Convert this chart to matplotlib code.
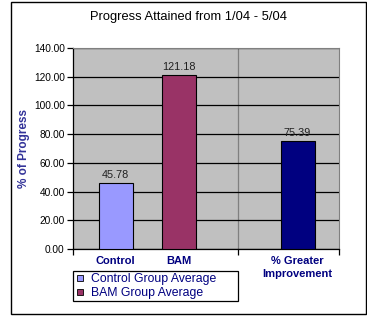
import numpy as np
import matplotlib.pyplot as plt
from matplotlib.patches import Rectangle
from matplotlib.lines import Line2D

plt.rcParams['font.family'] = ['Liberation Sans', 'DejaVu Sans']

title = "Progress Attained from 1/04 - 5/04"
groups = ["Control", "BAM"]
group_vals = [45.78, 121.18]
group_colors = ["#9999FF", "#993366"]
legend_labels = ["Control Group Average", "BAM Group Average"]
improve_label = "% Greater\nImprovement"
improve_val = [75.39]
improve_color = "#000080"
yticks = np.arange(0, 141, 20)

fig = plt.figure(figsize=(3.67, 3.25), dpi=100)
fig.patches.append(Rectangle((0.030, 0.034), 0.967, 0.960, transform=fig.transFigure,
                             fill=False, edgecolor="black", linewidth=1.0))
ax = fig.add_axes([0.199, 0.234, 0.725, 0.618])
ax.set_facecolor("#C0C0C0")

x1 = np.arange(len(groups))
sep = 1.92
x2 = np.array([2.853])
w = 0.533

b1 = ax.bar(x1, group_vals, width=w, color=group_colors, edgecolor="black", linewidth=0.8, zorder=3)
b2 = ax.bar(x2, improve_val, width=w, color=improve_color, edgecolor="black", linewidth=0.8, zorder=3)
for b in (b1, b2):
    ax.bar_label(b, labels=["%.2f" % v for v in b.datavalues], padding=2, fontsize=7.8, color="#202020")

ax.set_xlim(-0.666, 3.503)
ax.set_ylim(0, 140)
ax.set_yticks(yticks)
ax.set_yticklabels(["%.2f" % v for v in yticks], fontsize=7.3)
ax.yaxis.grid(True, color="black", linewidth=0.9, zorder=1)
ax.axvline(sep, color="#808080", linewidth=0.9, zorder=1)

ax.set_xticks([-0.666, sep, 3.503])
ax.set_xticklabels([])
ax.set_xticks(list(x1) + list(x2), minor=True)
ax.set_xticklabels(groups + [improve_label], minor=True, fontsize=8, fontweight="bold",
                   color="#000080", linespacing=1.35)
ax.tick_params(axis="x", which="minor", length=0, pad=5)
ax.tick_params(axis="x", which="major", length=4, direction="out", width=0.9)
ax.tick_params(axis="y", length=4, direction="out", width=0.9, pad=2)

for s in ["top", "right"]:
    ax.spines[s].set_color("#808080")
for s in ["left", "bottom"]:
    ax.spines[s].set_color("black")
    ax.spines[s].set_linewidth(0.9)

ax.set_ylabel("% of Progress", fontsize=8.5, fontweight="bold", color="#333399", labelpad=3)

fig.text(0.514, 0.948, title, ha="center", va="center", fontsize=9.3)

handles = [Line2D([], [], marker="s", linestyle="", markersize=5, markerfacecolor=c,
                  markeredgecolor="black", markeredgewidth=0.6) for c in group_colors]
leg = fig.legend(handles, legend_labels, loc="lower left",
                 bbox_to_anchor=(0.199, 0.074, 0.45, 0.089), mode="expand",
                 fancybox=False, edgecolor="black", framealpha=1, fontsize=8.8,
                 handlelength=0.8, handletextpad=0.5, borderpad=0.15, labelspacing=0.15,
                 borderaxespad=0)
leg.get_frame().set_linewidth(0.9)
for t in leg.get_texts():
    t.set_color("#000080")

fig.savefig("out.png", dpi=100)
